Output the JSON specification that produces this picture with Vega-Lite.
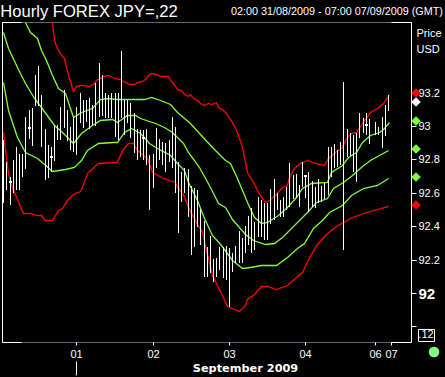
{"$schema":"https://vega.github.io/schema/vega-lite/v6.json","width":409,"height":320,"autosize":{"type":"none"},"padding":{"left":2,"top":22,"right":34,"bottom":35},"background":"#000000","view":{"stroke":"#666677"},
"datasets":{
"bars":[{"t":0,"v":92.918,"low":92.54},{"t":1,"v":92.786,"low":92.618},{"t":2,"v":92.696,"low":92.528},{"t":3,"v":92.798,"low":92.6},{"t":4,"v":92.876,"low":92.618},{"t":5,"v":92.834,"low":92.618},{"t":6,"v":92.834,"low":92.696},{"t":7,"v":93.056,"low":92.744},{"t":8,"v":93.098,"low":92.924},{"t":9,"v":93.11,"low":92.882},{"t":10,"v":93.308,"low":93.122},{"t":11,"v":93.362,"low":93.122},{"t":12,"v":93.188,"low":92.876},{"t":13,"v":92.984,"low":92.678},{"t":14,"v":92.888,"low":92.69},{"t":15,"v":92.876,"low":92.726},{"t":16,"v":93.002,"low":92.792},{"t":17,"v":93.008,"low":92.918},{"t":18,"v":93.116,"low":92.918},{"t":19,"v":93.218,"low":92.99},{"t":20,"v":93.098,"low":92.912},{"t":21,"v":92.996,"low":92.858},{"t":22,"v":93.056,"low":92.846},{"t":23,"v":93.116,"low":92.828},{"t":24,"v":93.2,"low":93.02},{"t":25,"v":93.158,"low":92.99},{"t":26,"v":93.158,"low":93.026},{"t":27,"v":93.17,"low":92.984},{"t":28,"v":93.128,"low":93.008},{"t":29,"v":93.26,"low":93.002},{"t":30,"v":93.38,"low":93.056},{"t":31,"v":93.308,"low":93.062},{"t":32,"v":93.2,"low":93.05},{"t":33,"v":93.188,"low":93.05},{"t":34,"v":93.2,"low":93.05},{"t":35,"v":93.2,"low":92.936},{"t":36,"v":93.2,"low":92.918},{"t":37,"v":93.452,"low":93.05},{"t":38,"v":93.158,"low":92.948},{"t":39,"v":93.158,"low":93.02},{"t":40,"v":93.14,"low":92.93},{"t":41,"v":93.08,"low":92.84},{"t":42,"v":92.984,"low":92.798},{"t":43,"v":92.978,"low":92.816},{"t":44,"v":92.978,"low":92.798},{"t":45,"v":92.984,"low":92.768},{"t":46,"v":92.828,"low":92.498},{"t":47,"v":92.834,"low":92.63},{"t":48,"v":92.99,"low":92.75},{"t":49,"v":92.924,"low":92.798},{"t":50,"v":92.906,"low":92.768},{"t":51,"v":92.9,"low":92.726},{"t":52,"v":92.918,"low":92.786},{"t":53,"v":93.056,"low":92.75},{"t":54,"v":92.996,"low":92.6},{"t":55,"v":92.786,"low":92.36},{"t":56,"v":92.726,"low":92.546},{"t":57,"v":92.75,"low":92.6},{"t":58,"v":92.744,"low":92.456},{"t":59,"v":92.642,"low":92.228},{"t":60,"v":92.63,"low":92.276},{"t":61,"v":92.618,"low":92.396},{"t":62,"v":92.504,"low":92.288},{"t":63,"v":92.432,"low":92.096},{"t":64,"v":92.276,"low":92.096},{"t":65,"v":92.342,"low":92.12},{"t":66,"v":92.204,"low":92.066},{"t":67,"v":92.21,"low":92.096},{"t":68,"v":92.276,"low":92.138},{"t":69,"v":92.276,"low":92.09},{"t":70,"v":92.282,"low":92.078},{"t":71,"v":92.27,"low":91.916},{"t":72,"v":92.24,"low":92.126},{"t":73,"v":92.282,"low":92.18},{"t":74,"v":92.372,"low":92.18},{"t":75,"v":92.33,"low":92.18},{"t":76,"v":92.402,"low":92.24},{"t":77,"v":92.462,"low":92.288},{"t":78,"v":92.51,"low":92.24},{"t":79,"v":92.426,"low":92.258},{"t":80,"v":92.576,"low":92.336},{"t":81,"v":92.558,"low":92.336},{"t":82,"v":92.54,"low":92.318},{"t":83,"v":92.54,"low":92.318},{"t":84,"v":92.624,"low":92.414},{"t":85,"v":92.684,"low":92.438},{"t":86,"v":92.6,"low":92.498},{"t":87,"v":92.558,"low":92.456},{"t":88,"v":92.576,"low":92.456},{"t":89,"v":92.636,"low":92.498},{"t":90,"v":92.78,"low":92.516},{"t":91,"v":92.708,"low":92.564},{"t":92,"v":92.714,"low":92.57},{"t":93,"v":92.648,"low":92.516},{"t":94,"v":92.786,"low":92.636},{"t":95,"v":92.708,"low":92.57},{"t":96,"v":92.726,"low":92.486},{"t":97,"v":92.672,"low":92.516},{"t":98,"v":92.636,"low":92.51},{"t":99,"v":92.684,"low":92.54},{"t":100,"v":92.642,"low":92.546},{"t":101,"v":92.66,"low":92.564},{"t":102,"v":92.876,"low":92.588},{"t":103,"v":92.876,"low":92.696},{"t":104,"v":92.894,"low":92.75},{"t":105,"v":92.858,"low":92.756},{"t":106,"v":92.906,"low":92.768},{"t":107,"v":93.266,"low":92.258},{"t":108,"v":92.984,"low":92.816},{"t":109,"v":92.96,"low":92.822},{"t":110,"v":92.948,"low":92.726},{"t":111,"v":92.96,"low":92.666},{"t":112,"v":93.08,"low":92.93},{"t":113,"v":93.05,"low":92.96},{"t":114,"v":93.08,"low":92.948},{"t":115,"v":93.044,"low":92.894},{"t":117,"v":93.026,"low":92.948},{"t":118,"v":92.996,"low":92.948},{"t":119,"v":93.056,"low":92.87},{"t":120,"v":93.128,"low":92.942},{"t":121,"v":93.188,"low":93.092}],
"closes":[{"t":2,"v":92.666},{"t":8,"v":92.99},{"t":15,"v":92.816},{"t":44,"v":92.93},{"t":95,"v":92.702},{"t":114,"v":93.008}],
"lines":[
{"band":"upper","t":15.2,"v":93.624},{"band":"upper","t":16.1,"v":93.518},{"band":"upper","t":16.8,"v":93.47},{"band":"upper","t":17.7,"v":93.446},{"band":"upper","t":19,"v":93.41},{"band":"upper","t":19.9,"v":93.356},{"band":"upper","t":20.8,"v":93.29},{"band":"upper","t":21.8,"v":93.212},{"band":"upper","t":23,"v":93.242},{"band":"upper","t":24,"v":93.248},{"band":"upper","t":25.3,"v":93.248},{"band":"upper","t":26.2,"v":93.242},{"band":"upper","t":27.1,"v":93.242},{"band":"upper","t":28.1,"v":93.254},{"band":"upper","t":29.3,"v":93.278},{"band":"upper","t":30.3,"v":93.29},{"band":"upper","t":31.5,"v":93.302},{"band":"upper","t":32.8,"v":93.308},{"band":"upper","t":34.1,"v":93.296},{"band":"upper","t":35.3,"v":93.29},{"band":"upper","t":36.6,"v":93.284},{"band":"upper","t":37.8,"v":93.272},{"band":"upper","t":38.8,"v":93.26},{"band":"upper","t":39.7,"v":93.254},{"band":"upper","t":41,"v":93.254},{"band":"upper","t":42.2,"v":93.266},{"band":"upper","t":43.8,"v":93.272},{"band":"upper","t":44.7,"v":93.284},{"band":"upper","t":45.7,"v":93.314},{"band":"upper","t":46.6,"v":93.32},{"band":"upper","t":47.9,"v":93.314},{"band":"upper","t":49.2,"v":93.302},{"band":"upper","t":50.7,"v":93.302},{"band":"upper","t":51.7,"v":93.302},{"band":"upper","t":52.6,"v":93.278},{"band":"upper","t":53.9,"v":93.242},{"band":"upper","t":54.8,"v":93.224},{"band":"upper","t":55.8,"v":93.218},{"band":"upper","t":57,"v":93.194},{"band":"upper","t":58,"v":93.182},{"band":"upper","t":58.6,"v":93.194},{"band":"upper","t":59.5,"v":93.176},{"band":"upper","t":60.8,"v":93.158},{"band":"upper","t":62,"v":93.14},{"band":"upper","t":63.3,"v":93.128},{"band":"upper","t":64.3,"v":93.14},{"band":"upper","t":65.5,"v":93.134},{"band":"upper","t":66.8,"v":93.146},{"band":"upper","t":67.7,"v":93.116},{"band":"upper","t":69,"v":93.098},{"band":"upper","t":70.2,"v":93.08},{"band":"upper","t":71.8,"v":93.026},{"band":"upper","t":73.4,"v":92.966},{"band":"upper","t":75,"v":92.876},{"band":"upper","t":76.8,"v":92.726},{"band":"upper","t":78.4,"v":92.666},{"band":"upper","t":80,"v":92.606},{"band":"upper","t":80.6,"v":92.588},{"band":"upper","t":82.2,"v":92.546},{"band":"upper","t":83.7,"v":92.558},{"band":"upper","t":85.9,"v":92.594},{"band":"upper","t":87.8,"v":92.636},{"band":"upper","t":89.1,"v":92.648},{"band":"upper","t":90,"v":92.696},{"band":"upper","t":91.6,"v":92.75},{"band":"upper","t":93.2,"v":92.78},{"band":"upper","t":95.4,"v":92.798},{"band":"upper","t":97.9,"v":92.78},{"band":"upper","t":101,"v":92.768},{"band":"upper","t":102,"v":92.81},{"band":"upper","t":104.2,"v":92.846},{"band":"upper","t":106.4,"v":92.876},{"band":"upper","t":107.9,"v":92.93},{"band":"upper","t":109.5,"v":92.96},{"band":"upper","t":111.1,"v":92.966},{"band":"upper","t":112.7,"v":93.02},{"band":"upper","t":115.2,"v":93.086},{"band":"upper","t":117.4,"v":93.11},{"band":"upper","t":119.3,"v":93.14},{"band":"upper","t":121.2,"v":93.194},
{"band":"a","t":6.7,"v":93.624},{"band":"a","t":8.3,"v":93.566},{"band":"a","t":10.5,"v":93.53},{"band":"a","t":12,"v":93.458},{"band":"a","t":13.6,"v":93.398},{"band":"a","t":15.5,"v":93.308},{"band":"a","t":17.1,"v":93.23},{"band":"a","t":19.3,"v":93.2},{"band":"a","t":21.8,"v":93.056},{"band":"a","t":24.6,"v":93.086},{"band":"a","t":27.8,"v":93.11},{"band":"a","t":30.3,"v":93.164},{"band":"a","t":32.8,"v":93.17},{"band":"a","t":35.6,"v":93.164},{"band":"a","t":40.7,"v":93.164},{"band":"a","t":44.4,"v":93.164},{"band":"a","t":46.6,"v":93.176},{"band":"a","t":49.2,"v":93.158},{"band":"a","t":52.3,"v":93.134},{"band":"a","t":54.5,"v":93.086},{"band":"a","t":58.6,"v":93.02},{"band":"a","t":61.7,"v":92.96},{"band":"a","t":65.8,"v":92.876},{"band":"a","t":69.6,"v":92.798},{"band":"a","t":71.2,"v":92.78},{"band":"a","t":73.4,"v":92.69},{"band":"a","t":75,"v":92.618},{"band":"a","t":76.8,"v":92.546},{"band":"a","t":79,"v":92.456},{"band":"a","t":81.2,"v":92.42},{"band":"a","t":83.1,"v":92.426},{"band":"a","t":86.3,"v":92.468},{"band":"a","t":89.1,"v":92.516},{"band":"a","t":92.2,"v":92.576},{"band":"a","t":94.1,"v":92.63},{"band":"a","t":96.9,"v":92.66},{"band":"a","t":101.7,"v":92.666},{"band":"a","t":103.2,"v":92.726},{"band":"a","t":106.4,"v":92.768},{"band":"a","t":108.3,"v":92.816},{"band":"a","t":111.1,"v":92.846},{"band":"a","t":112.7,"v":92.906},{"band":"a","t":115.2,"v":92.948},{"band":"a","t":118.3,"v":92.966},{"band":"a","t":119.9,"v":92.99},{"band":"a","t":121.2,"v":93.026},
{"band":"b","t":-0.2,"v":93.566},{"band":"b","t":1.4,"v":93.47},{"band":"b","t":4.2,"v":93.356},{"band":"b","t":6.7,"v":93.26},{"band":"b","t":9.8,"v":93.17},{"band":"b","t":12,"v":93.116},{"band":"b","t":16.1,"v":93.008},{"band":"b","t":18.6,"v":92.966},{"band":"b","t":21.8,"v":92.9},{"band":"b","t":24.6,"v":92.96},{"band":"b","t":27.8,"v":93.008},{"band":"b","t":30.3,"v":93.038},{"band":"b","t":34.1,"v":93.044},{"band":"b","t":35.9,"v":93.026},{"band":"b","t":38.8,"v":93.068},{"band":"b","t":41.3,"v":93.068},{"band":"b","t":42.9,"v":93.05},{"band":"b","t":47.6,"v":93.02},{"band":"b","t":50.7,"v":92.996},{"band":"b","t":53.2,"v":92.966},{"band":"b","t":56.4,"v":92.9},{"band":"b","t":58,"v":92.846},{"band":"b","t":61.7,"v":92.756},{"band":"b","t":64.9,"v":92.636},{"band":"b","t":67.4,"v":92.54},{"band":"b","t":69.6,"v":92.516},{"band":"b","t":72.1,"v":92.444},{"band":"b","t":75.9,"v":92.354},{"band":"b","t":78.4,"v":92.318},{"band":"b","t":82.2,"v":92.294},{"band":"b","t":85.3,"v":92.3},{"band":"b","t":87.8,"v":92.336},{"band":"b","t":91.6,"v":92.408},{"band":"b","t":95.4,"v":92.486},{"band":"b","t":98.5,"v":92.546},{"band":"b","t":101.7,"v":92.57},{"band":"b","t":103.6,"v":92.63},{"band":"b","t":106.7,"v":92.666},{"band":"b","t":109.8,"v":92.708},{"band":"b","t":112.7,"v":92.762},{"band":"b","t":115.2,"v":92.798},{"band":"b","t":118.3,"v":92.828},{"band":"b","t":120.9,"v":92.858},
{"band":"c","t":-0.2,"v":93.266},{"band":"c","t":1.4,"v":93.098},{"band":"c","t":4.2,"v":92.936},{"band":"c","t":6.7,"v":92.846},{"band":"c","t":10.5,"v":92.81},{"band":"c","t":12.4,"v":92.78},{"band":"c","t":15.5,"v":92.732},{"band":"c","t":19.3,"v":92.744},{"band":"c","t":22.4,"v":92.756},{"band":"c","t":24.6,"v":92.798},{"band":"c","t":26.5,"v":92.858},{"band":"c","t":29.7,"v":92.9},{"band":"c","t":34.4,"v":92.906},{"band":"c","t":35.9,"v":92.906},{"band":"c","t":38.1,"v":92.966},{"band":"c","t":40.3,"v":92.99},{"band":"c","t":42.9,"v":92.96},{"band":"c","t":46,"v":92.9},{"band":"c","t":48.5,"v":92.87},{"band":"c","t":52.3,"v":92.828},{"band":"c","t":54.8,"v":92.78},{"band":"c","t":57,"v":92.738},{"band":"c","t":58,"v":92.666},{"band":"c","t":60.8,"v":92.558},{"band":"c","t":63.3,"v":92.45},{"band":"c","t":65.8,"v":92.348},{"band":"c","t":68.6,"v":92.288},{"band":"c","t":71.8,"v":92.198},{"band":"c","t":75,"v":92.15},{"band":"c","t":77.5,"v":92.156},{"band":"c","t":81.2,"v":92.168},{"band":"c","t":85.9,"v":92.168},{"band":"c","t":89.4,"v":92.216},{"band":"c","t":92.5,"v":92.27},{"band":"c","t":94.7,"v":92.3},{"band":"c","t":97.3,"v":92.39},{"band":"c","t":100.1,"v":92.438},{"band":"c","t":102.6,"v":92.486},{"band":"c","t":106.4,"v":92.528},{"band":"c","t":109.5,"v":92.588},{"band":"c","t":113,"v":92.63},{"band":"c","t":117.4,"v":92.648},{"band":"c","t":120.9,"v":92.69},
{"band":"lower","t":-0.2,"v":92.966},{"band":"lower","t":1.4,"v":92.72},{"band":"lower","t":2.9,"v":92.636},{"band":"lower","t":4.2,"v":92.564},{"band":"lower","t":6.1,"v":92.48},{"band":"lower","t":8.3,"v":92.48},{"band":"lower","t":10.5,"v":92.468},{"band":"lower","t":12,"v":92.468},{"band":"lower","t":13,"v":92.438},{"band":"lower","t":15.2,"v":92.438},{"band":"lower","t":17.1,"v":92.498},{"band":"lower","t":18.6,"v":92.51},{"band":"lower","t":20.2,"v":92.558},{"band":"lower","t":21.8,"v":92.594},{"band":"lower","t":24,"v":92.612},{"band":"lower","t":24.9,"v":92.636},{"band":"lower","t":26.5,"v":92.72},{"band":"lower","t":29.7,"v":92.78},{"band":"lower","t":35.9,"v":92.786},{"band":"lower","t":37.5,"v":92.858},{"band":"lower","t":39.1,"v":92.9},{"band":"lower","t":40.7,"v":92.9},{"band":"lower","t":42.2,"v":92.858},{"band":"lower","t":45.1,"v":92.81},{"band":"lower","t":46.9,"v":92.726},{"band":"lower","t":50.1,"v":92.69},{"band":"lower","t":53.9,"v":92.666},{"band":"lower","t":54.8,"v":92.636},{"band":"lower","t":56.4,"v":92.594},{"band":"lower","t":58,"v":92.516},{"band":"lower","t":60.8,"v":92.414},{"band":"lower","t":62.4,"v":92.366},{"band":"lower","t":63.9,"v":92.258},{"band":"lower","t":65.8,"v":92.108},{"band":"lower","t":68,"v":92.024},{"band":"lower","t":70.5,"v":91.922},{"band":"lower","t":74.3,"v":91.892},{"band":"lower","t":75.9,"v":91.928},{"band":"lower","t":76.8,"v":91.964},{"band":"lower","t":79,"v":91.994},{"band":"lower","t":81.2,"v":92.042},{"band":"lower","t":83.1,"v":92.042},{"band":"lower","t":85.9,"v":92.024},{"band":"lower","t":89.1,"v":92.048},{"band":"lower","t":92.2,"v":92.096},{"band":"lower","t":94.1,"v":92.126},{"band":"lower","t":96.3,"v":92.216},{"band":"lower","t":98.8,"v":92.294},{"band":"lower","t":101.7,"v":92.36},{"band":"lower","t":104.8,"v":92.402},{"band":"lower","t":106.7,"v":92.426},{"band":"lower","t":109.8,"v":92.456},{"band":"lower","t":113,"v":92.48},{"band":"lower","t":117.4,"v":92.504},{"band":"lower","t":120.9,"v":92.522}],
"last":[{"band":"upper","t":129.9,"v":93.2},{"band":"price","t":129.9,"v":93.144},{"band":"a","t":129.9,"v":93.032},{"band":"b","t":129.9,"v":92.862},{"band":"c","t":129.9,"v":92.696},{"band":"lower","t":129.9,"v":92.526}],
"frame":[{"t":-0.38,"t2":-0.38,"v":91.706,"v2":93.624},{"t":-0.38,"t2":5.75,"v":93.624,"v2":93.624},{"t":-0.38,"t2":5.75,"v":91.706,"v2":91.706},{"t":122,"t2":128.24,"v":93.624,"v2":93.624},{"t":122,"t2":128.24,"v":91.706,"v2":91.706},{"t":23,"t2":23,"v":91.592,"v2":91.508}],
"scaleBox":[{"t":130.3,"t2":135.6,"v":91.784,"v2":91.712}],
"scaleLabel":[{"t":132.9,"v":91.748,"label":".12"}],
"status":[{"t":135.6,"v":91.646}],
"heading":[{"t":27,"v":93.681,"label":"Hourly FOREX JPY=,22"}],
"range":[{"t":105.1,"v":93.681,"label":"02:00 31/08/2009 - 07:00 07/09/2009 (GMT)"}]
},
"encoding":{
"x":{"field":"t","type":"quantitative","scale":{"domain":[-0.38,128.24],"nice":false,"zero":false,"round":true},
"axis":{"orient":"bottom","values":[23,47,71,95,117,122],"labelExpr":"{'23':'01','47':'02','71':'03','95':'04','117':'06','122':'07'}[datum.value]","domain":false,"grid":false,"ticks":true,"tickSize":3,"tickColor":"#ffffff","labelColor":"#ffffff","labelFont":"Liberation Sans","labelFontSize":11,"labelPadding":3,"labelFlush":false,"labelOverlap":false,"title":"September 2009","titleColor":"#ffffff","titleFont":"DejaVu Sans","titleFontSize":11.3,"titleFontWeight":"bold","titleX":243,"titleY":26,"titleBaseline":"middle"}},
"y":{"field":"v","type":"quantitative","scale":{"domain":[91.706,93.624],"nice":false,"zero":false,"round":true},
"axis":{"orient":"right","values":[91.8,92,92.2,92.4,92.6,92.8,93,93.2],"labelExpr":"datum.value<91.9?'':(datum.value==92||datum.value==93?format(datum.value,'d'):format(datum.value,'.1f'))","domain":true,"domainColor":"#ffffff","grid":false,"ticks":true,"tickColor":"#ffffff","tickSize":5,"labelColor":"#ffffff","labelFont":"Liberation Sans","labelFontSize":{"condition":{"test":"datum.value==92","value":15},"value":11},"labelFontWeight":{"condition":{"test":"datum.value==92","value":"bold"},"value":"normal"},"labelPadding":2,"labelOverlap":false,"labelFlush":false,"title":["Price","USD"],"titleColor":"#ffffff","titleFont":"Liberation Sans","titleFontSize":11,"titleFontWeight":"normal","titleAngle":0,"titleAlign":"left","titleBaseline":"top","titleX":5,"titleY":5,"titleLineHeight":16}}
},
"layer":[
{"data":{"name":"frame"},"mark":{"type":"rule","color":"#ffffff","strokeWidth":1,"xOffset":0.5,"yOffset":0.5,"x2Offset":0.5,"y2Offset":0.5},"encoding":{"x2":{"field":"t2"},"y2":{"field":"v2"}}},
{"data":{"name":"lines"},"mark":{"type":"line","strokeWidth":1.3,"xOffset":0.5,"yOffset":0.5},"encoding":{"color":{"field":"band","type":"nominal","legend":null,"scale":{"domain":["upper","a","b","c","lower","price"],"range":["#ff0000","#80ff40","#80ff40","#80ff40","#ff0000","#ffffff"]}}}},
{"data":{"name":"bars"},"mark":{"type":"rule","strokeWidth":1,"color":"#ffffff","xOffset":0.5},"encoding":{"y2":{"field":"low"}}},
{"data":{"name":"closes"},"mark":{"type":"tick","orient":"horizontal","size":3,"thickness":2,"opacity":1,"color":"#ffffff","xOffset":0.5}},
{"data":{"name":"last"},"mark":{"type":"point","shape":"diamond","filled":true,"size":90,"opacity":1},"encoding":{"color":{"field":"band","type":"nominal","legend":null}}},
{"data":{"name":"scaleBox"},"mark":{"type":"rect","fill":"#000000","stroke":"#ffffff","strokeWidth":1,"xOffset":0.5,"yOffset":0.5,"x2Offset":0.5,"y2Offset":0.5},"encoding":{"x2":{"field":"t2"},"y2":{"field":"v2"}}},
{"data":{"name":"scaleLabel"},"mark":{"type":"text","color":"#ffffff","font":"Liberation Sans","fontSize":11,"align":"center","baseline":"middle"},"encoding":{"text":{"field":"label"}}},
{"data":{"name":"heading"},"mark":{"type":"text","color":"#ffffff","font":"Liberation Sans","fontSize":16.6,"align":"center","baseline":"middle"},"encoding":{"text":{"field":"label"}}},
{"data":{"name":"range"},"mark":{"type":"text","color":"#ffffff","font":"Liberation Sans","fontSize":10.8,"align":"center","baseline":"middle"},"encoding":{"text":{"field":"label"}}},
{"data":{"name":"status"},"mark":{"type":"point","shape":"circle","filled":true,"size":113,"opacity":1,"color":"#80ff80"}}
]}
